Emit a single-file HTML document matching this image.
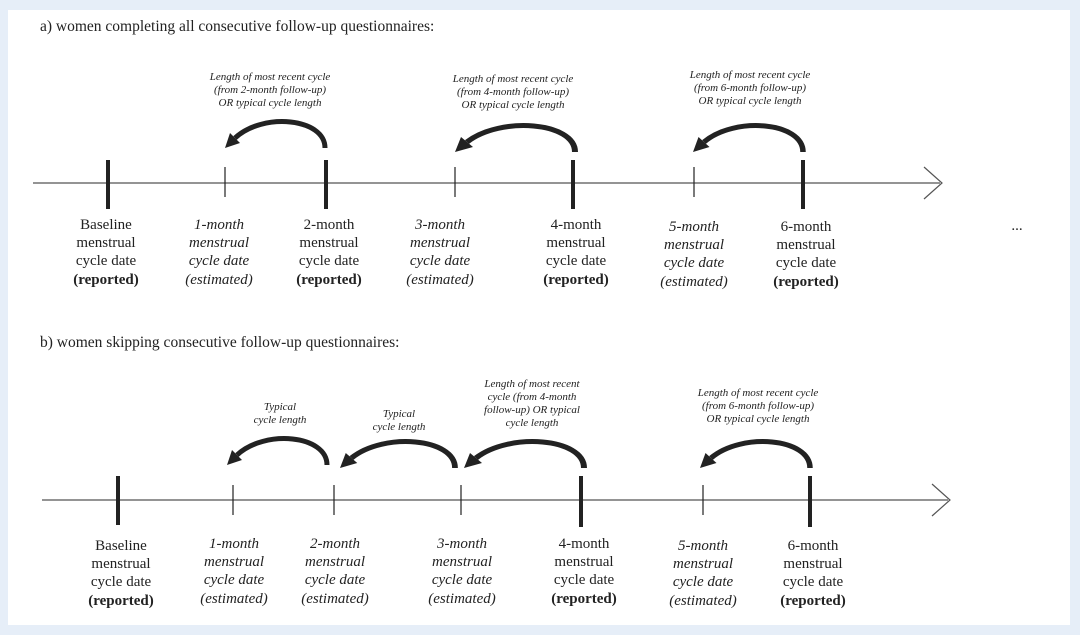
<!DOCTYPE html>
<html><head><meta charset="utf-8"><style>
body{margin:0;background:#e6eef8;}
svg{display:block}
text{font-family:"Liberation Serif",serif;fill:#222}
.l{font-size:15px;text-anchor:middle}
.i{font-style:italic}
.s{font-size:11px;font-style:italic;text-anchor:middle;fill:#333}
.b{font-weight:bold}
</style></head><body>
<svg width="1080" height="635" viewBox="0 0 1080 635" xmlns="http://www.w3.org/2000/svg">
<defs>
<g id="arr">
<path d="M0,0 C0,-30 -62,-36 -90,-10" fill="none" stroke="#222" stroke-width="5"/>
<polygon points="-100,0 -85,-5 -95,-15" fill="#222"/>
</g>
</defs>
<rect x="8" y="10" width="1062" height="615" fill="#fff"/>
<text x="40" y="31" style="font-size:15.5px">a) women completing all consecutive follow-up questionnaires:</text>
<line x1="33" y1="183" x2="940" y2="183" stroke="#555" stroke-width="1.2"/>
<polyline points="924,167 942,183 924,199" fill="none" stroke="#555" stroke-width="1.2"/>
<g stroke="#222">
<line x1="108" y1="160" x2="108" y2="209" stroke-width="4"/>
<line x1="225" y1="167" x2="225" y2="197" stroke-width="1.2"/>
<line x1="326" y1="160" x2="326" y2="209" stroke-width="4"/>
<line x1="455" y1="167" x2="455" y2="197" stroke-width="1.2"/>
<line x1="573" y1="160" x2="573" y2="209" stroke-width="4"/>
<line x1="694" y1="167" x2="694" y2="197" stroke-width="1.2"/>
<line x1="803" y1="160" x2="803" y2="209" stroke-width="4"/>
</g>
<g class="l">
<text x="106" y="229">Baseline</text><text x="106" y="247">menstrual</text><text x="106" y="265">cycle date</text><text x="106" y="284" class="b">(reported)</text>
<g class="i"><text x="219" y="229">1-month</text><text x="219" y="247">menstrual</text><text x="219" y="265">cycle date</text><text x="219" y="284">(estimated)</text></g>
<text x="329" y="229">2-month</text><text x="329" y="247">menstrual</text><text x="329" y="265">cycle date</text><text x="329" y="284" class="b">(reported)</text>
<g class="i"><text x="440" y="229">3-month</text><text x="440" y="247">menstrual</text><text x="440" y="265">cycle date</text><text x="440" y="284">(estimated)</text></g>
<text x="576" y="229">4-month</text><text x="576" y="247">menstrual</text><text x="576" y="265">cycle date</text><text x="576" y="284" class="b">(reported)</text>
<g class="i"><text x="694" y="231">5-month</text><text x="694" y="249">menstrual</text><text x="694" y="267">cycle date</text><text x="694" y="286">(estimated)</text></g>
<text x="806" y="231">6-month</text><text x="806" y="249">menstrual</text><text x="806" y="267">cycle date</text><text x="806" y="286" class="b">(reported)</text>
</g>
<text x="1017" y="230" style="font-size:15px;text-anchor:middle">...</text>
<g class="s">
<text x="270" y="80">Length of most recent cycle</text><text x="270" y="93">(from 2-month follow-up)</text><text x="270" y="106">OR typical cycle length</text>
<text x="513" y="82">Length of most recent cycle</text><text x="513" y="95">(from 4-month follow-up)</text><text x="513" y="108">OR typical cycle length</text>
<text x="750" y="78">Length of most recent cycle</text><text x="750" y="91">(from 6-month follow-up)</text><text x="750" y="104">OR typical cycle length</text>
</g>
<use href="#arr" transform="translate(325,148)"/>
<use href="#arr" transform="translate(575,152) scale(1.2,1)"/>
<use href="#arr" transform="translate(803,152) scale(1.1,1)"/>

<text x="40" y="347" style="font-size:15.5px">b) women skipping consecutive follow-up questionnaires:</text>
<line x1="42" y1="500" x2="948" y2="500" stroke="#555" stroke-width="1.2"/>
<polyline points="932,484 950,500 932,516" fill="none" stroke="#555" stroke-width="1.2"/>
<g stroke="#222">
<line x1="118" y1="476" x2="118" y2="525" stroke-width="4"/>
<line x1="233" y1="485" x2="233" y2="515" stroke-width="1.2"/>
<line x1="334" y1="485" x2="334" y2="515" stroke-width="1.2"/>
<line x1="461" y1="485" x2="461" y2="515" stroke-width="1.2"/>
<line x1="581" y1="476" x2="581" y2="527" stroke-width="4"/>
<line x1="703" y1="485" x2="703" y2="515" stroke-width="1.2"/>
<line x1="810" y1="476" x2="810" y2="527" stroke-width="4"/>
</g>
<g class="l">
<text x="121" y="550">Baseline</text><text x="121" y="568">menstrual</text><text x="121" y="586">cycle date</text><text x="121" y="605" class="b">(reported)</text>
<g class="i"><text x="234" y="548">1-month</text><text x="234" y="566">menstrual</text><text x="234" y="584">cycle date</text><text x="234" y="603">(estimated)</text></g>
<g class="i"><text x="335" y="548">2-month</text><text x="335" y="566">menstrual</text><text x="335" y="584">cycle date</text><text x="335" y="603">(estimated)</text></g>
<g class="i"><text x="462" y="548">3-month</text><text x="462" y="566">menstrual</text><text x="462" y="584">cycle date</text><text x="462" y="603">(estimated)</text></g>
<text x="584" y="548">4-month</text><text x="584" y="566">menstrual</text><text x="584" y="584">cycle date</text><text x="584" y="603" class="b">(reported)</text>
<g class="i"><text x="703" y="550">5-month</text><text x="703" y="568">menstrual</text><text x="703" y="586">cycle date</text><text x="703" y="605">(estimated)</text></g>
<text x="813" y="550">6-month</text><text x="813" y="568">menstrual</text><text x="813" y="586">cycle date</text><text x="813" y="605" class="b">(reported)</text>
</g>
<g class="s">
<text x="280" y="410">Typical</text><text x="280" y="423">cycle length</text>
<text x="399" y="417">Typical</text><text x="399" y="430">cycle length</text>
<text x="532" y="387">Length of most recent</text><text x="532" y="400">cycle (from 4-month</text><text x="532" y="413">follow-up) OR typical</text><text x="532" y="426">cycle length</text>
<text x="758" y="396">Length of most recent cycle</text><text x="758" y="409">(from 6-month follow-up)</text><text x="758" y="422">OR typical cycle length</text>
</g>
<use href="#arr" transform="translate(327,465)"/>
<use href="#arr" transform="translate(455,468) scale(1.15,1)"/>
<use href="#arr" transform="translate(584,468) scale(1.2,1)"/>
<use href="#arr" transform="translate(810,468) scale(1.1,1)"/>
</svg>
</body></html>
